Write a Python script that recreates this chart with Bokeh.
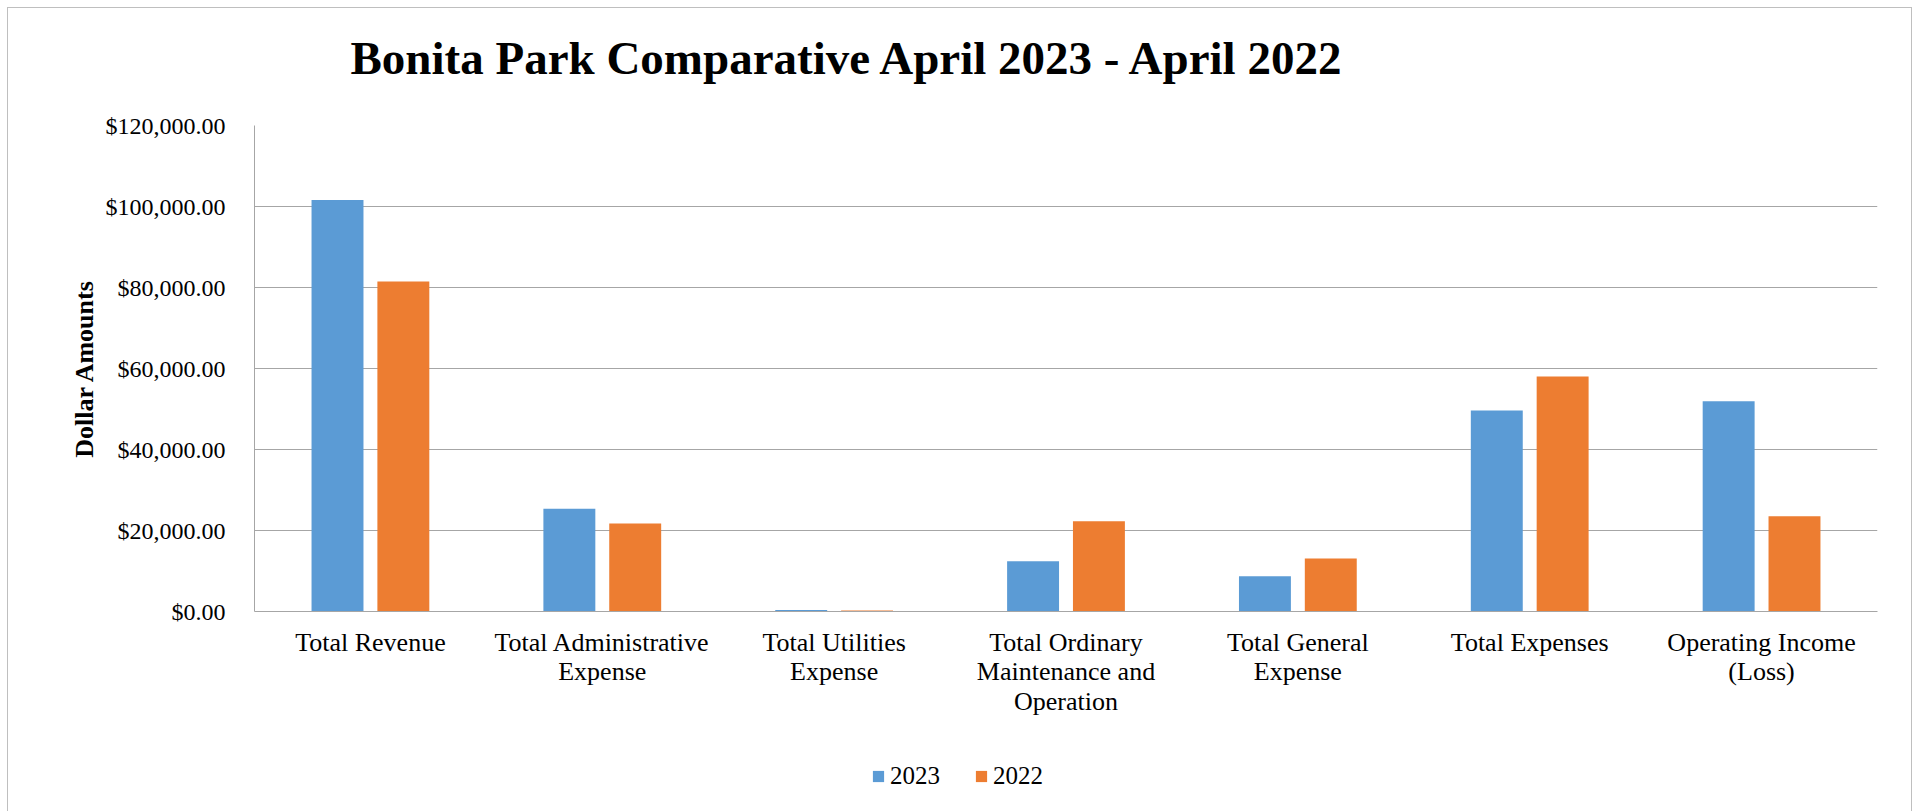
from bokeh.plotting import figure
from bokeh.layouts import column
from bokeh.models import (FactorRange, FixedTicker, NumeralTickFormatter, Legend,
                          LegendItem, ColumnDataSource, Label, Range1d)
from bokeh.transform import dodge
from bokeh.embed import file_html
from bokeh.resources import INLINE

# ---- data ----
title_text = "Bonita Park Comparative April 2023 - April 2022"
tick_labels = ["Total Revenue", "Total Administrative\nExpense", "Total Utilities\nExpense",
               "Total Ordinary\nMaintenance and\nOperation", "Total General\nExpense",
               "Total Expenses", "Operating Income\n(Loss)"]
values_2023 = [101600, 25400, 400, 12400, 8700, 49600, 51900]
values_2022 = [81500, 21700, 250, 22300, 13100, 58000, 23500]
series_names = ["2023", "2022"]
y_ticks = [0, 20000, 40000, 60000, 80000, 100000, 120000]

FONT = "Liberation Serif"
BLUE = "#5B9BD5"
ORANGE = "#ED7D31"
GRID = "#A6A6A6"
W = 1903


def bare(height, x_range, y_range):
    f = figure(width=W, height=height, output_backend="svg", toolbar_location=None,
               x_axis_type=None, y_axis_type=None, x_range=x_range, y_range=y_range,
               min_border=0)
    f.outline_line_color = None
    f.background_fill_color = "white"
    f.border_fill_color = "white"
    f.grid.grid_line_color = None
    return f


# ---- header with title (its frame is aligned to the chart frame: canvas x 254..1877) ----
head = bare(97, Range1d(254, 1877), Range1d(97, 0))
head.add_layout(Label(x=350, y=49, text=title_text, text_font=FONT,
                      text_font_size="47px", text_font_style="bold", text_color="black",
                      text_align="left", text_baseline="alphabetic"))

# ---- main chart ----
source = ColumnDataSource(dict(cat=tick_labels, v2023=values_2023, v2022=values_2022))

p = figure(frame_width=1623, frame_height=486, output_backend="svg", toolbar_location=None,
           x_range=FactorRange(factors=tick_labels, range_padding=0, factor_padding=0),
           y_range=(0, 120000),
           min_border_left=246, min_border_right=34, min_border_top=20, min_border_bottom=130)
p.background_fill_color = "white"
p.border_fill_color = "white"
p.outline_line_color = None

r1 = p.vbar(x=dodge("cat", -0.142, range=p.x_range), top="v2023", width=0.224,
            source=source, fill_color=BLUE, line_color=None)
r2 = p.vbar(x=dodge("cat", 0.142, range=p.x_range), top="v2022", width=0.224,
            source=source, fill_color=ORANGE, line_color=None)

yax = p.yaxis[0]
yax.ticker = FixedTicker(ticks=y_ticks)
yax.formatter = NumeralTickFormatter(format="$0,0.00")
yax.major_label_text_font = FONT
yax.major_label_text_font_size = "24px"
yax.major_label_text_color = "black"
yax.major_label_standoff = 23
yax.major_tick_line_color = None
yax.minor_tick_line_color = None
yax.axis_line_color = GRID
yax.axis_label = "Dollar Amounts"
yax.axis_label_text_font = FONT
yax.axis_label_text_font_size = "26px"
yax.axis_label_text_font_style = "bold"
yax.axis_label_text_color = "black"
yax.axis_label_standoff = 4

xax = p.xaxis[0]
xax.major_label_text_font = FONT
xax.major_label_text_font_size = "26px"
xax.major_label_text_color = "black"
xax.major_label_text_align = "center"
xax.major_label_text_line_height = 1.02
xax.major_label_standoff = 10
xax.major_label_orientation = "horizontal"
xax.major_tick_line_color = None
xax.minor_tick_line_color = None
xax.axis_line_color = GRID

p.xgrid.grid_line_color = None
p.ygrid.grid_line_color = GRID
p.ygrid.grid_line_width = 1
p.ygrid.ticker = FixedTicker(ticks=y_ticks)

# ---- legend strip (swatch renderers kept outside the visible range) ----
leg = bare(70, Range1d(0, 1), Range1d(0, 1))
lr1 = leg.vbar(x=[-1], top=[-1], width=0.1, fill_color=BLUE, line_color=None)
lr2 = leg.vbar(x=[-1], top=[-1], width=0.1, fill_color=ORANGE, line_color=None)
legend = Legend(items=[LegendItem(label=series_names[0], renderers=[lr1]),
                       LegendItem(label=series_names[1], renderers=[lr2])],
                location="left", orientation="horizontal",
                glyph_width=14, glyph_height=14, label_standoff=5, spacing=34,
                padding=0, margin=617, border_line_color=None, background_fill_alpha=0,
                label_text_font=FONT, label_text_font_size="25px", label_text_color="black")
leg.add_layout(legend, "center")

layout = column(head, p, leg, spacing=0, margin=(7, 0, 0, 7),
                styles={"border-top": "1px solid #BFBFBF", "border-left": "1px solid #BFBFBF",
                        "border-right": "1px solid #BFBFBF"})

open("out.html", "w").write(file_html(layout, INLINE))
